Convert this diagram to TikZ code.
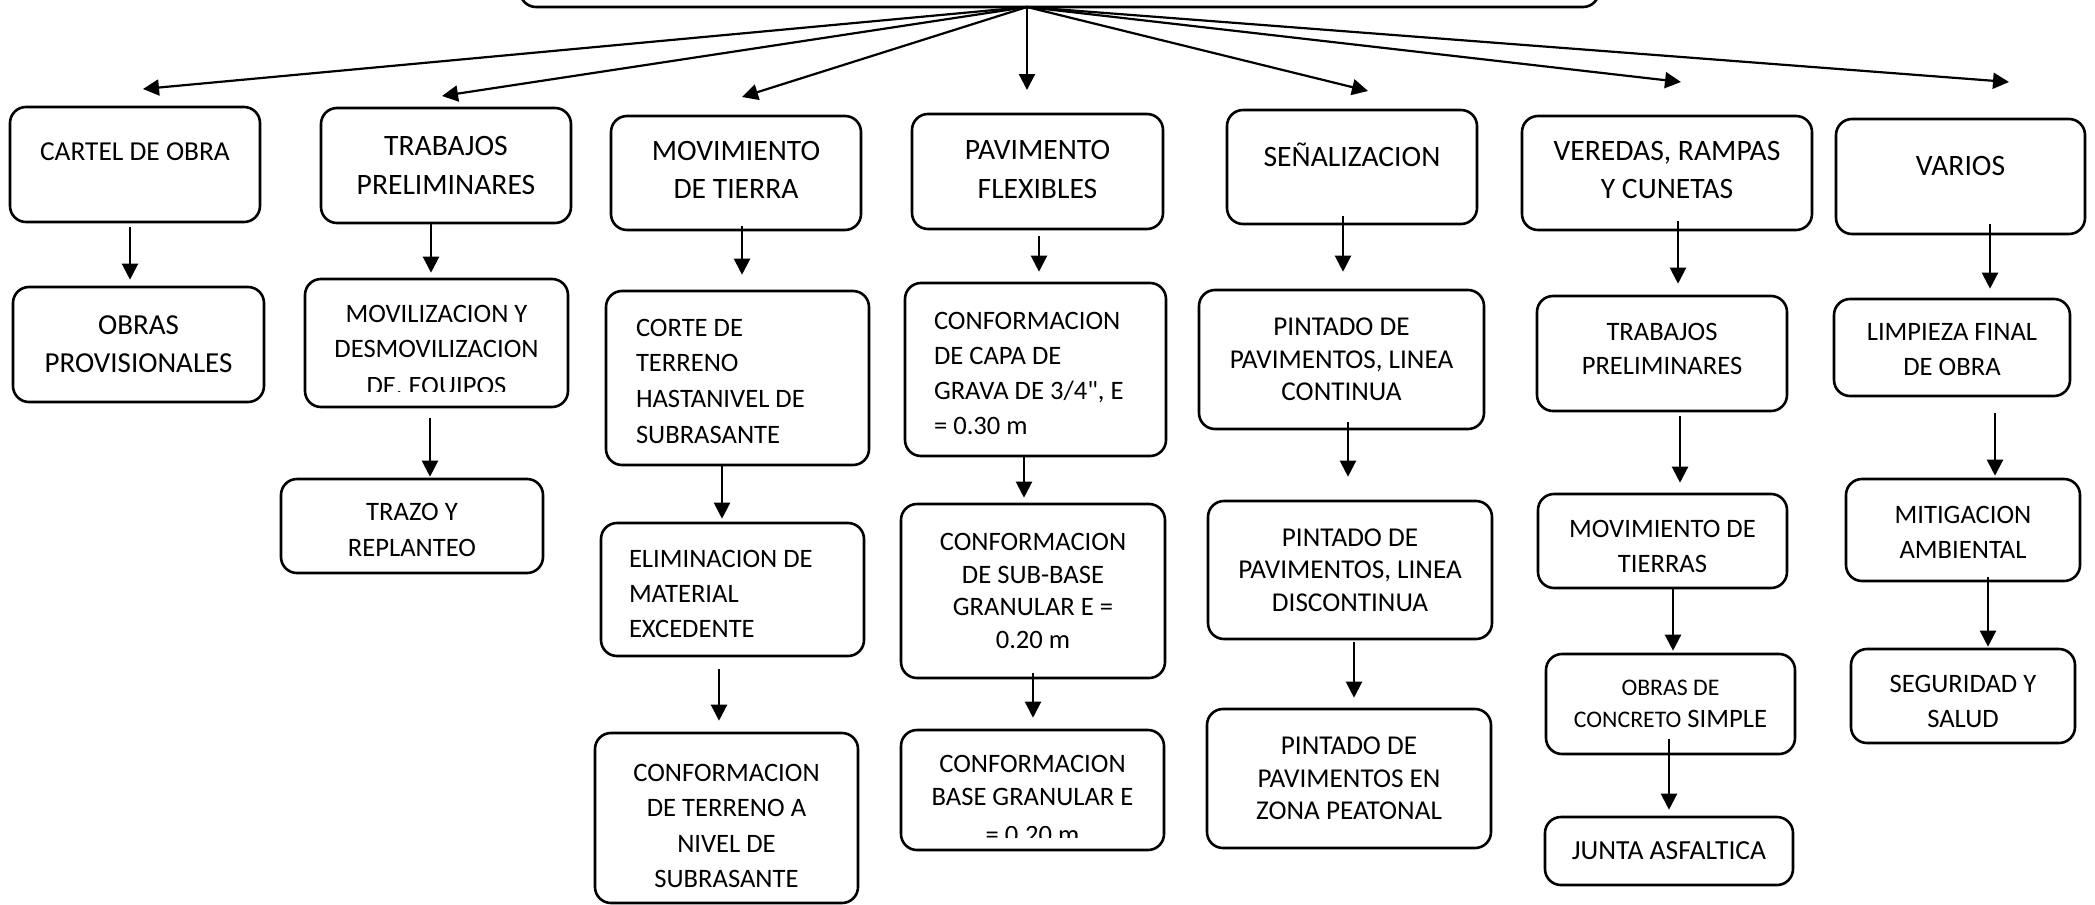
\documentclass[tikz,border=0pt]{standalone}
\usepackage{fontspec}
\setmainfont{Carlito}[Ligatures=TeXOff]
\usepackage{trimclip}
\usetikzlibrary{arrows.meta}

\tikzset{
  box/.style={draw, line width=1.3pt, rounded corners=8pt, align=flush center, inner sep=0pt,
    font=\fontsize{13.3}{17.6}\selectfont},
  head/.style={box, font=\fontsize{14.8}{19.3}\selectfont},
  tight/.style={box, font=\fontsize{13.3}{16.3}\selectfont},
  arr/.style={-{Triangle[length=8pt,width=8pt]}, line width=1.1pt},
}

\begin{document}
\begin{tikzpicture}[x=0.5pt, y=-0.5pt]
  \useasboundingbox (0,0) rectangle (2095,905);

  % titulo, cortado arriba
  \node[box, minimum width=539.5pt, minimum height=63.5pt] (top) at (1059.5,-56.5) {};
  \coordinate (hub) at (1027,7);

  % partidas
  \node[box, minimum width=125pt, minimum height=57.5pt, font=\fontsize{13.7}{17.6}\selectfont, text height=8.6pt, text depth=12.5pt] (cartel) at (135,164.5) {CARTEL DE OBRA};
  \node[head, minimum width=125pt, minimum height=57.5pt] (trab) at (446,165.5) {TRABAJOS\\PRELIMINARES};
  \node[head, minimum width=125pt, minimum height=57pt] (mov) at (736,173) {MOVIMIENTO\\DE TIERRA\rule[-3pt]{0pt}{3pt}};
  \node[head, minimum width=125.5pt, minimum height=57.5pt] (pav) at (1037.5,171.5) {PAVIMENTO\\FLEXIBLES\rule[-2pt]{0pt}{2pt}};
  \node[head, minimum width=125pt, minimum height=57pt, text height=9.4pt, text depth=10pt] (sen) at (1352,167) {SEÑALIZACION};
  \node[head, minimum width=145pt, minimum height=57pt] (ver) at (1667,173) {VEREDAS, RAMPAS\\Y CUNETAS\rule[-3pt]{0pt}{3pt}};
  \node[head, minimum width=124.5pt, minimum height=57.5pt, text height=9.4pt, text depth=10pt] (var) at (1960.5,176.5) {VARIOS};

  % subpartidas
  \node[box, minimum width=125.5pt, minimum height=57.5pt, font=\fontsize{14.5}{19}\selectfont] (obras) at (138.5,344.5) {OBRAS\\PROVISIONALES};

  \node[box, minimum width=131.5pt, minimum height=64pt, font=\fontsize{13.3}{17.4}\selectfont] (movil) at (436.5,343) {\rule{0pt}{14pt}MOVILIZACION Y\\DESMOVILIZACION\\\clipbox*{0pt 1.3pt {\width} {\height}}{DE. EQUIPOS}};
  \node[box, minimum width=131pt, minimum height=47pt, font=\fontsize{13.3}{18}\selectfont] (trazo) at (412,526) {\rule{0pt}{12.6pt}TRAZO Y\\REPLANTEO};

  \node[box, align=flush left, text width=101.5pt, inner xsep=15pt, minimum height=87pt, font=\fontsize{13.3}{17.8}\selectfont] (corte) at (737.5,378) {\rule{0pt}{11.8pt}CORTE DE\\TERRENO\\HASTANIVEL DE\\SUBRASANTE};
  \node[box, align=flush left, text width=103.5pt, inner xsep=14pt, minimum height=66.5pt] (elim) at (732.5,589.5) {\rule{0pt}{13.2pt}ELIMINACION DE\\MATERIAL\\EXCEDENTE};
  \node[box, minimum width=131.5pt, minimum height=85pt] (conft) at (726.5,818) {\rule{0pt}{16.6pt}CONFORMACION\\DE TERRENO A\\NIVEL DE\\SUBRASANTE};

  \node[box, align=flush left, text width=101.5pt, inner xsep=14.5pt, minimum height=86.5pt] (capa) at (1035.5,369.5) {\rule{0pt}{12.6pt}CONFORMACION\\DE CAPA DE\\GRAVA DE 3/4", E\\= 0.30 m};
  \node[tight, minimum width=132pt, minimum height=87pt] (sub) at (1033,591) {CONFORMACION\\DE SUB-BASE\\GRANULAR E =\\0.20 m};
  \node[tight, minimum width=131.5pt, minimum height=60pt] (base) at (1032.5,790) {\rule{0pt}{15.2pt}CONFORMACION\\BASE GRANULAR E\\\clipbox*{0pt 3pt {\width} {\height}}{= 0.20 m}};

  \node[tight, minimum width=142.5pt, minimum height=69.5pt, font=\fontsize{13.6}{16.3}\selectfont] (pint1) at (1341.5,359.5) {PINTADO DE\\PAVIMENTOS, LINEA\\CONTINUA};
  \node[tight, minimum width=142pt, minimum height=69pt, font=\fontsize{13.6}{16.3}\selectfont] (pint2) at (1350,570) {PINTADO DE\\PAVIMENTOS, LINEA\\DISCONTINUA};
  \node[tight, minimum width=142pt, minimum height=69.5pt, font=\fontsize{13.6}{16.3}\selectfont] (pint3) at (1349,778.5) {PINTADO DE\\PAVIMENTOS EN\\ZONA PEATONAL};

  \node[box, minimum width=125pt, minimum height=57.5pt, font=\fontsize{13.3}{17}\selectfont] (trab2) at (1662,353.5) {TRABAJOS\\PRELIMINARES\rule[-4.7pt]{0pt}{4.7pt}};
  \node[box, minimum width=124.5pt, minimum height=47pt] (movt) at (1662.5,541) {\rule{0pt}{13.9pt}MOVIMIENTO DE\\TIERRAS};
  \node[tight, minimum width=124.5pt, minimum height=50pt] (conc) at (1670.5,704) {{\fontsize{11.9}{16.3}\selectfont OBRAS DE}\\{\fontsize{11.9}{16.3}\selectfont CONCRETO} SIMPLE};
  \node[box, minimum width=124pt, minimum height=34pt, font=\fontsize{13.8}{17.6}\selectfont] (junta) at (1669,851) {JUNTA ASFALTICA};

  \node[box, minimum width=118pt, minimum height=48.5pt] (limp) at (1952,347.5) {\rule{0pt}{10.4pt}LIMPIEZA FINAL\\DE OBRA};
  \node[box, minimum width=117pt, minimum height=51pt] (mit) at (1963,530) {\rule{0pt}{11.1pt}MITIGACION\\AMBIENTAL};
  \node[box, minimum width=112pt, minimum height=47pt] (seg) at (1963,696) {\rule{0pt}{13.9pt}SEGURIDAD Y\\SALUD};

  % flechas del titulo
  \coordinate (tcartel) at (143,89);
  \coordinate (ttrab) at (442,96);
  \coordinate (tmov) at (742,97);
  \coordinate (tpav) at (1027,90);
  \coordinate (tsen) at (1368,91);
  \coordinate (tver) at (1681,82);
  \coordinate (tvar) at (2009,82);
  \foreach \t in {tcartel,ttrab,tmov,tpav,tsen,tver,tvar}
    \draw[arr] (hub) -- (\t);

  % flechas verticales
  \draw[arr, shorten <=2pt, shorten >=3pt] (cartel.south -| 130,0) -- (obras.north -| 130,0);
  \draw[arr, shorten >=2.5pt] (trab.south -| 431,0) -- (movil.north -| 431,0);
  \draw[arr, shorten <=5pt, shorten >=0.5pt] (movil.south -| 430,0) -- (trazo.north -| 430,0);

  \draw[arr, shorten <=-2.5pt, shorten >=7.5pt] (mov.south -| 742,0) -- (corte.north -| 742,0);
  \draw[arr, shorten >=1.5pt] (corte.south -| 722,0) -- (elim.north -| 722,0);
  \draw[arr, shorten <=6pt, shorten >=5.5pt] (elim.south -| 719,0) -- (conft.north -| 719,0);

  \draw[arr, shorten <=3pt, shorten >=5pt] (pav.south -| 1039,0) -- (capa.north -| 1039,0);
  \draw[arr, shorten >=2.5pt] (capa.south -| 1024,0) -- (sub.north -| 1024,0);
  \draw[arr, shorten <=-3pt, shorten >=5.5pt] (sub.south -| 1033,0) -- (base.north -| 1033,0);

  \draw[arr, shorten <=-4.5pt, shorten >=8.5pt] (sen.south -| 1343,0) -- (pint1.north -| 1343,0);
  \draw[arr, shorten <=-4pt, shorten >=11.5pt] (pint1.south -| 1348,0) -- (pint2.north -| 1348,0);
  \draw[arr, shorten <=1pt, shorten >=5pt] (pint2.south -| 1354,0) -- (pint3.north -| 1354,0);

  \draw[arr, shorten <=-5pt, shorten >=5.5pt] (ver.south -| 1678,0) -- (trab2.north -| 1678,0);
  \draw[arr, shorten <=2pt, shorten >=5pt] (trab2.south -| 1680,0) -- (movt.north -| 1680,0);
  \draw[arr, shorten >=1pt] (movt.south -| 1673,0) -- (conc.north -| 1673,0);
  \draw[arr, shorten <=-8pt, shorten >=3pt] (conc.south -| 1669,0) -- (junta.north -| 1669,0);

  \draw[arr, shorten <=-5.5pt, shorten >=4.5pt] (var.south -| 1990,0) -- (limp.north -| 1990,0);
  \draw[arr, shorten <=8pt, shorten >=1pt] (limp.south -| 1995,0) -- (mit.north -| 1995,0);
  \draw[arr, shorten <=-2.5pt, shorten >=0.5pt] (mit.south -| 1988,0) -- (seg.north -| 1988,0);
\end{tikzpicture}
\end{document}
